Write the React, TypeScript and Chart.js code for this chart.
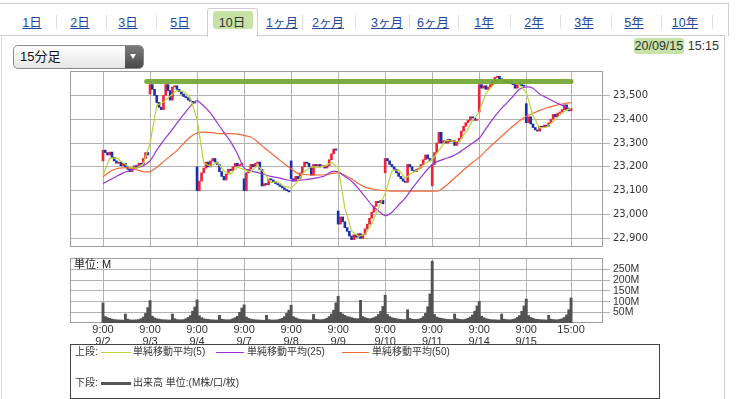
import React, { useEffect, useRef } from "react";
import { Chart, registerables } from "chart.js";

Chart.register(...registerables);

// ---------- data ----------
const dayDates = ["9/2", "9/3", "9/4", "9/7", "9/8", "9/9", "9/10", "9/11", "9/14", "9/15"];
const barsPerDay = 21; // 9:00 .. 15:00, 15-minute bars
const lastBar = 209; // 9/15 15:00
const dayOpens = [23225, 23505, 23200, 23150, 23225, 23015, 23175, 23120, 23430, 23465];

const close0902 = [23270, 23260, 23250, 23262, 23240, 23225, 23215, 23220, 23205, 23215, 23200, 23190, 23180, 23195, 23205, 23200, 23215, 23210, 23235, 23260, 23250];
const close0903 = [23545, 23525, 23500, 23470, 23450, 23440, 23500, 23545, 23520, 23480, 23535, 23540, 23525, 23515, 23505, 23495, 23490, 23480, 23475, 23470, 23468];
const close0904 = [23100, 23140, 23175, 23195, 23220, 23200, 23225, 23235, 23220, 23210, 23180, 23160, 23145, 23170, 23190, 23185, 23200, 23215, 23205, 23210, 23215];
const close0907 = [23100, 23175, 23190, 23210, 23200, 23215, 23220, 23190, 23120, 23130, 23125, 23150, 23145, 23138, 23130, 23125, 23118, 23112, 23105, 23100, 23095];
const close0908 = [23150, 23140, 23160, 23150, 23175, 23200, 23220, 23215, 23200, 23165, 23210, 23205, 23210, 23200, 23205, 23195, 23205, 23230, 23255, 23275, 23270];
const close0909 = [22960, 22990, 22970, 22945, 22930, 22910, 22895, 22915, 22905, 22920, 22900, 22915, 22940, 22960, 22985, 23010, 23035, 23055, 23050, 23060, 23045];
const close0910 = [23235, 23225, 23210, 23200, 23190, 23175, 23160, 23150, 23140, 23135, 23210, 23200, 23185, 23180, 23190, 23195, 23210, 23230, 23250, 23235, 23225];
const close0911 = [23210, 23260, 23300, 23345, 23300, 23310, 23300, 23315, 23305, 23310, 23290, 23305, 23320, 23350, 23370, 23385, 23395, 23410, 23405, 23395, 23400];
const close0914 = [23545, 23530, 23540, 23525, 23535, 23545, 23560, 23575, 23580, 23570, 23565, 23560, 23555, 23560, 23550, 23545, 23530, 23548, 23545, 23540, 23538];
const close0915 = [23385, 23410, 23380, 23365, 23355, 23350, 23370, 23365, 23375, 23370, 23385, 23400, 23420, 23410, 23425, 23430, 23440, 23460, 23440, 23435, 23445];
const closesByDay = [close0902, close0903, close0904, close0907, close0908, close0909, close0910, close0911, close0914, close0915];

const vol0902 = [94, 30, 25, 22, 18, 16, 15, 14, 14, 13, 42, 18, 15, 14, 14, 15, 16, 20, 28, 45, 72];
const vol0903 = [105, 32, 24, 20, 18, 16, 15, 15, 14, 14, 42, 20, 16, 15, 15, 16, 20, 26, 35, 55, 75];
const vol0904 = [108, 34, 25, 20, 18, 17, 15, 15, 14, 14, 36, 18, 16, 15, 15, 16, 20, 25, 32, 50, 70];
const vol0907 = [85, 28, 22, 18, 16, 15, 14, 14, 13, 13, 36, 16, 14, 14, 14, 15, 18, 22, 30, 45, 60];
const vol0908 = [83, 30, 24, 20, 17, 16, 15, 15, 14, 14, 40, 18, 16, 15, 16, 18, 22, 30, 42, 60, 94];
const vol0909 = [125, 50, 42, 36, 30, 28, 25, 22, 20, 20, 106, 30, 25, 22, 20, 22, 25, 30, 40, 55, 78];
const vol0910 = [130, 40, 30, 25, 22, 20, 18, 17, 16, 16, 62, 22, 18, 17, 17, 18, 22, 30, 45, 76, 136];
const vol0911 = [289, 40, 28, 24, 22, 20, 18, 17, 16, 16, 42, 20, 18, 16, 16, 18, 22, 28, 38, 55, 80];
const vol0914 = [101, 32, 25, 20, 18, 16, 15, 15, 14, 14, 42, 18, 16, 15, 15, 17, 20, 26, 35, 55, 80];
const vol0915 = [112, 35, 26, 22, 18, 17, 16, 15, 15, 14, 36, 18, 16, 15, 15, 17, 20, 26, 38, 62, 117];
const volumesByDay = [vol0902, vol0903, vol0904, vol0907, vol0908, vol0909, vol0910, vol0911, vol0914, vol0915];

// moving averages sampled every 3 bars (last sample at 15:00 of 9/15)
const maStep = 3;
const ma5 = [
  23165, 23236, 23238, 23216, 23198, 23194, 23213,
  23300, 23458, 23472, 23497, 23520, 23516, 23489,
  23399, 23216, 23203, 23218, 23183, 23170, 23199,
  23189, 23178, 23207, 23175, 23134, 23138, 23118,
  23112, 23139, 23181, 23200, 23198, 23203, 23218,
  23198, 23027, 22930, 22909, 22916, 22962, 23027,
  23089, 23183, 23187, 23152, 23174, 23190, 23215,
  23230, 23268, 23311, 23308, 23306, 23346, 23393,
  23431, 23508, 23541, 23566, 23566, 23554, 23544,
  23511, 23416, 23364, 23366, 23390, 23417, 23439, 23444,
];
const ma25 = [
  23130, 23145, 23160, 23175, 23185, 23195, 23205,
  23225, 23270, 23310, 23345, 23383, 23420, 23455,
  23478, 23455, 23425, 23385, 23345, 23305, 23255,
  23195, 23182, 23177, 23168, 23160, 23155, 23148,
  23142, 23144, 23146, 23150, 23155, 23162, 23180,
  23180, 23160, 23140, 23110, 23075, 23040, 23015,
  22995, 23010, 23040, 23070, 23110, 23145, 23180,
  23210, 23225, 23235, 23245, 23260, 23280, 23300,
  23320, 23360, 23400, 23435, 23465, 23495, 23525,
  23535, 23530, 23505, 23490, 23475, 23462, 23450, 23443,
];
const ma50 = [
  23158, 23180, 23192, 23196, 23195, 23188, 23180,
  23180, 23198, 23222, 23245, 23268, 23298, 23325,
  23342, 23346, 23344, 23340, 23339, 23339, 23337,
  23332, 23325, 23305, 23280, 23258, 23235, 23212,
  23192, 23172, 23168, 23166, 23166, 23167, 23172,
  23175, 23165, 23150, 23130, 23115, 23108, 23103,
  23100, 23098, 23098, 23098, 23098, 23098, 23098,
  23098, 23100, 23120, 23145, 23170, 23195, 23218,
  23240, 23268, 23295, 23320, 23345, 23370, 23393,
  23412, 23425, 23437, 23447, 23455, 23462, 23467, 23470,
];

const priceTicks = [22900, 23000, 23100, 23200, 23300, 23400, 23500];
const volumeTicks = [50, 100, 150, 200, 250];
const openTime = "9:00";
const closeTime = "15:00";
const resistanceLevel = 23558;
const resistanceStart = 19.5;

const tabs = ["1日", "2日", "3日", "5日", "10日", "1ヶ月", "2ヶ月", "3ヶ月", "6ヶ月", "1年", "2年", "3年", "5年", "10年"];
const selectedTab = "10日";

// ---------- derived ----------
const candleData: { x: number; y: [number, number] }[] = [];
const candleColors: string[] = [];
const volumeData: { x: number; y: number }[] = [];
closesByDay.forEach((closes, d) => {
  closes.forEach((c, i) => {
    const o = i === 0 ? dayOpens[d] : closes[i - 1];
    candleData.push({ x: d * barsPerDay + i, y: [o, c] });
    candleColors.push(c >= o ? "#e8253a" : "#1c2fa6");
  });
  volumesByDay[d].forEach((v, i) => volumeData.push({ x: d * barsPerDay + i, y: v }));
});
const maX = (k: number) => Math.min(k * maStep, lastBar);
const toPts = (arr: number[]) => arr.map((v, k) => ({ x: maX(k), y: v }));
const tickIdx = [...dayDates.map((_, d) => d * barsPerDay), lastBar];
const tickTime = [...dayDates.map(() => openTime), closeTime];
const tickDate = [...dayDates, ""];

const X_MIN = -14.74;
const X_MAX = 223.26;
const GRID = "#b2b2b2";
const C5 = "#bcd23c";
const C25 = "#9b34d0";
const C50 = "#ee6a3a";

const framePlugin = {
  id: "frame",
  beforeDatasetsDraw(chart: any) {
    const { ctx, chartArea: a } = chart;
    ctx.save();
    ctx.strokeStyle = "#9c9c9c";
    ctx.lineWidth = 1;
    const l = Math.round(a.left) + 0.5;
    const t = Math.round(a.top) + 0.5;
    ctx.strokeRect(l, t, Math.round(a.right) - Math.round(a.left) - 1, Math.round(a.bottom) - Math.round(a.top) - 1);
    ctx.restore();
  },
};

function xScaleBase(showLabels: boolean, height: number) {
  return {
    type: "linear" as const,
    min: X_MIN,
    max: X_MAX,
    offset: false,
    afterBuildTicks: (s: any) => {
      s.ticks = tickIdx.map((v) => ({ value: v }));
    },
    afterFit: (s: any) => {
      s.height = height;
      s.paddingLeft = 0;
      s.paddingRight = 0;
    },
    grid: { color: GRID, drawTicks: false, offset: false, lineWidth: 1 },
    border: { display: false },
    ticks: {
      display: showLabels,
      autoSkip: false,
      maxRotation: 0,
      padding: 1,
      color: "#333",
      font: { family: "'Liberation Sans Narrow', 'Liberation Sans', sans-serif", size: 11, lineHeight: 1.08 },
      callback: (_v: any, i: number) => (tickDate[i] ? [tickTime[i], tickDate[i]] : [tickTime[i], " "]),
    },
  };
}

function PriceChart() {
  const ref = useRef<HTMLCanvasElement>(null);
  useEffect(() => {
    const chart = new Chart(ref.current!, {
      type: "bar",
      data: {
        datasets: [
          { type: "line", data: [{ x: resistanceStart, y: resistanceLevel }, { x: lastBar, y: resistanceLevel }], borderColor: "rgba(114,164,52,0.92)", borderWidth: 5, pointRadius: 0, borderCapStyle: "round", order: 0 } as any,
          { type: "line", data: toPts(ma5), borderColor: C5, borderWidth: 1.2, pointRadius: 0, tension: 0, order: 1 } as any,
          { type: "line", data: toPts(ma25), borderColor: C25, borderWidth: 1.2, pointRadius: 0, tension: 0.2, order: 1 } as any,
          { type: "line", data: toPts(ma50), borderColor: C50, borderWidth: 1.2, pointRadius: 0, tension: 0.2, order: 1 } as any,
          { type: "bar", data: candleData as any, backgroundColor: candleColors, barThickness: 2, minBarLength: 1, order: 5 } as any,
        ],
      },
      options: {
        animation: false,
        responsive: false,
        maintainAspectRatio: false,
        layout: { padding: { left: 10, top: 6, right: 0, bottom: 8 } },
        plugins: { legend: { display: false }, tooltip: { enabled: false } },
        scales: {
          x: xScaleBase(false, 0) as any,
          y: {
            position: "right",
            min: 22864,
            max: 23602,
            afterBuildTicks: (s: any) => {
              s.ticks = priceTicks.map((v) => ({ value: v }));
            },
            afterFit: (s: any) => {
              s.width = 77;
              s.paddingTop = 0;
              s.paddingBottom = 0;
            },
            grid: { color: GRID, tickLength: 7, drawTicks: true },
            border: { display: false },
            ticks: {
              padding: 3,
              color: "#333",
              font: { family: "'DejaVu Sans', sans-serif", size: 10 },
              callback: (v: any) => Number(v).toLocaleString("en-US"),
            },
          },
        },
      },
      plugins: [framePlugin],
    });
    return () => chart.destroy();
  }, []);
  return <canvas ref={ref} width={620} height={190} style={{ position: "absolute", left: 60, top: 65, width: 620, height: 190 }} />;
}

function VolumeChart() {
  const ref = useRef<HTMLCanvasElement>(null);
  useEffect(() => {
    const chart = new Chart(ref.current!, {
      type: "bar",
      data: {
        datasets: [
          { type: "bar", data: volumeData as any, backgroundColor: "#525252", barPercentage: 1, categoryPercentage: 1 } as any,
        ],
      },
      options: {
        animation: false,
        responsive: false,
        maintainAspectRatio: false,
        layout: { padding: { left: 10, top: 8, right: 0, bottom: 0 } },
        plugins: { legend: { display: false }, tooltip: { enabled: false } },
        scales: {
          x: xScaleBase(true, 27) as any,
          y: {
            position: "right",
            min: 0,
            max: 304,
            afterBuildTicks: (s: any) => {
              s.ticks = volumeTicks.map((v) => ({ value: v }));
            },
            afterFit: (s: any) => {
              s.width = 77;
              s.paddingTop = 0;
              s.paddingBottom = 0;
            },
            grid: { color: GRID, tickLength: 7, drawTicks: true },
            border: { display: false },
            ticks: {
              padding: 3,
              color: "#333",
              font: { family: "'Liberation Sans Narrow', 'Liberation Sans', sans-serif", size: 10.5 },
              callback: (v: any) => `${v}M`,
            },
          },
        },
      },
      plugins: [framePlugin],
    });
    return () => chart.destroy();
  }, []);
  return <canvas ref={ref} width={620} height={100} style={{ position: "absolute", left: 60, top: 250, width: 620, height: 100 }} />;
}

const tabCenters = [32, 80, 128, 180, 232, 282, 328, 387, 433, 484, 534, 584, 634, 685];
const tabSeparators = [56, 106, 156, 302, 355, 409, 458, 510, 560, 611, 661, 712];

const abs = (s: React.CSSProperties): React.CSSProperties => ({ position: "absolute", ...s });
const JP = "'Liberation Sans', 'Noto Sans CJK JP', sans-serif";

export default function App() {
  return (
    <div style={{ position: "fixed", left: 0, top: 0, width: 740, height: 399, background: "#fff", overflow: "hidden", fontFamily: JP }}>
      {/* frame lines */}
      <div style={abs({ left: 0, top: 3, width: 729, height: 0, borderTop: "1px solid #cfcfcf" })} />
      <div style={abs({ left: 728, top: 3, width: 0, height: 33, borderLeft: "1px solid #cfcfcf" })} />
      <div style={abs({ left: 0, top: 35, width: 207, height: 0, borderTop: "1px solid #cfcfcf" })} />
      <div style={abs({ left: 257, top: 35, width: 467, height: 0, borderTop: "1px solid #cfcfcf" })} />
      <div style={abs({ left: 724, top: 35, width: 0, height: 364, borderLeft: "1px solid #cfcfcf" })} />
      <div style={abs({ left: 1, top: 35, width: 0, height: 364, borderLeft: "1px solid #dcdcdc" })} />
      {/* selected tab */}
      <div style={abs({ left: 207, top: 8, width: 49, height: 28, border: "1px solid #cfcfcf", borderBottom: "none", borderRadius: "3px 3px 0 0", background: "#fff" })} />
      <div style={abs({ left: 213, top: 11, width: 40, height: 18, background: "#c6e2a6", borderRadius: 3 })} />
      {tabSeparators.map((x, i) => (
        <div key={"s" + i} style={abs({ left: x, top: 15, width: 0, height: 14, borderLeft: "1px solid #dedede" })} />
      ))}
      {tabs.map((t, i) => {
        const sel = t === selectedTab;
        return (
          <div
            key={t}
            style={abs({
              left: tabCenters[i] - 30,
              top: 13,
              width: 60,
              height: 20,
              lineHeight: "20px",
              textAlign: "center",
              fontSize: 12.5,
              color: sel ? "#333" : "#24489c",
              textDecoration: sel ? "none" : "underline",
            })}
          >
            {t}
          </div>
        );
      })}
      {/* dropdown */}
      <div style={abs({ left: 13, top: 45, width: 129, height: 22, border: "1px solid #8a8a8a", borderRadius: 5, background: "linear-gradient(#ffffff, #e6e6e6)", overflow: "hidden" })}>
        <div style={abs({ left: 6, top: 0, height: 22, lineHeight: "22px", fontSize: 13, color: "#111" })}>15分足</div>
        <div style={abs({ left: 111, top: 0, width: 18, height: 22, background: "linear-gradient(#7a7a7a, #4a4a4a)" })}>
          <div style={abs({ left: 5, top: 8, width: 0, height: 0, borderLeft: "3.5px solid transparent", borderRight: "3.5px solid transparent", borderTop: "5px solid #fff" })} />
        </div>
      </div>
      {/* date */}
      <div style={abs({ right: 21, top: 38, height: 17, lineHeight: "17px", fontSize: 12.5, color: "#333", whiteSpace: "nowrap" })}>
        <span style={{ background: "#c6e2a6", borderRadius: 3, padding: "1px 1px" }}>20/09/15</span> 15:15
      </div>
      {/* charts */}
      <PriceChart />
      <VolumeChart />
      <div style={abs({ left: 74, top: 257, fontSize: 11, lineHeight: "14px", color: "#222" })}>単位: M</div>
      {/* legend */}
      <div style={abs({ left: 70, top: 344, width: 588, height: 53, border: "1px solid #444" })} />
      <div style={abs({ left: 75, top: 345, fontSize: 10, lineHeight: "14px", color: "#333" })}>上段:</div>
      <div style={abs({ left: 101, top: 352, width: 30, height: 1, background: C5 })} />
      <div style={abs({ left: 133, top: 345, fontSize: 10, lineHeight: "14px", color: "#333" })}>単純移動平均(5)</div>
      <div style={abs({ left: 216, top: 352, width: 28, height: 1, background: C25 })} />
      <div style={abs({ left: 247, top: 345, fontSize: 10, lineHeight: "14px", color: "#333" })}>単純移動平均(25)</div>
      <div style={abs({ left: 342, top: 352, width: 27, height: 1, background: C50 })} />
      <div style={abs({ left: 372, top: 345, fontSize: 10, lineHeight: "14px", color: "#333" })}>単純移動平均(50)</div>
      <div style={abs({ left: 75, top: 376, fontSize: 10, lineHeight: "14px", color: "#333" })}>下段:</div>
      <div style={abs({ left: 101, top: 382, width: 30, height: 3, background: "#555" })} />
      <div style={abs({ left: 133, top: 376, fontSize: 10, lineHeight: "14px", color: "#333" })}>出来高 単位:(M株/口/枚)</div>
    </div>
  );
}
